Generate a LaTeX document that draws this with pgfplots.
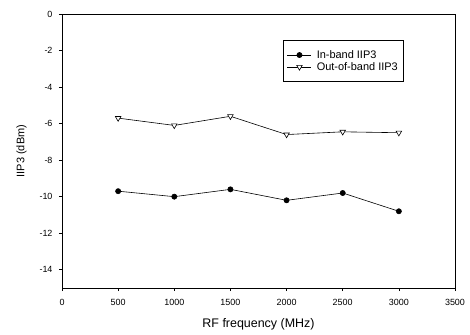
\documentclass[border=0pt]{standalone}
\usepackage{pgfplots}
\pgfplotsset{compat=1.18}
\usepackage{fontspec}
\setmainfont{Liberation Sans}
\begin{document}
\begin{tikzpicture}
\begin{axis}[
  scale only axis,
  width=393bp, height=274bp,
  xmin=0, xmax=3500, ymin=-15, ymax=0,
  xtick={0,500,...,3500},
  ytick={0,-2,-4,-6,-8,-10,-12,-14},
  tick align=outside,
  tick pos=left,
  major tick length=3bp,
  axis line style={line width=0.7pt},
  tick style={black, line width=0.6pt},
  /pgf/number format/assume math mode=true,
  /pgf/number format/1000 sep={},
  ticklabel style={font=\fontsize{9}{10}\selectfont},
  xticklabel style={yshift=-4.5bp},
  yticklabel style={xshift=-3bp},
  xlabel={RF frequency (MHz)},
  ylabel={IIP3 (dBm)},
  xlabel style={font=\fontsize{12.5}{14}\selectfont, yshift=-6bp},
  ylabel style={font=\fontsize{11}{13}\selectfont, yshift=6bp},
  legend style={at={(0.562,0.905)}, anchor=north west, draw=black, line width=0.6pt,
    font=\fontsize{11}{11}\selectfont, inner xsep=4bp, inner ysep=8bp, row sep=-1.5bp,
    column sep=3bp},
  legend cell align=left,
  legend image code/.code={\draw[mark repeat=2,mark phase=2] plot coordinates {(0bp,0bp) (12bp,0bp) (24bp,0bp)};},
]
\addplot[black, line width=0.6pt, mark=*, mark size=2.6bp, mark options={fill=black}]
  coordinates {(500,-9.7) (1000,-10.0) (1500,-9.6) (2000,-10.2) (2500,-9.8) (3000,-10.8)};
\addlegendentry{In-band IIP3}
\addplot[black, line width=0.6pt, mark=triangle*, mark size=3.2bp, mark options={fill=white, rotate=180, line width=0.6pt}]
  coordinates {(500,-5.7) (1000,-6.1) (1500,-5.6) (2000,-6.6) (2500,-6.45) (3000,-6.5)};
\addlegendentry{Out-of-band IIP3}
\end{axis}
\pgfresetboundingbox
\path (current axis.south west) ++(-62bp,-47bp) coordinate (bl);
\path (current axis.north east) ++(15bp,14bp) coordinate (tr);
\path[use as bounding box] (bl) rectangle (tr);
\end{tikzpicture}
\end{document}
